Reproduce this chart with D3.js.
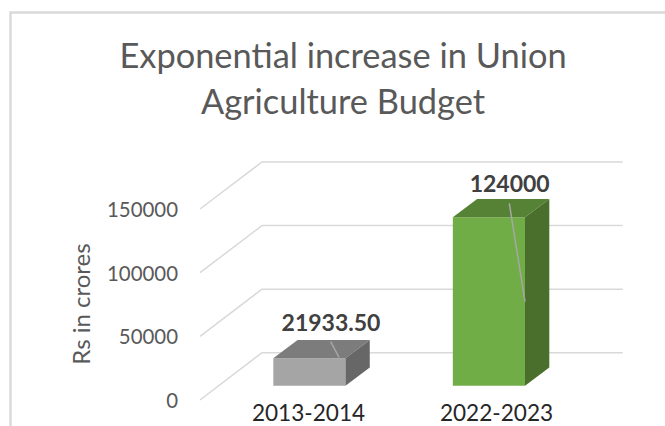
<!DOCTYPE html>
<html><head><meta charset="utf-8">
<script src="https://cdn.jsdelivr.net/npm/d3@7"></script>
<style>html,body{margin:0;padding:0;background:#fff;overflow:hidden}svg{display:block}</style>
</head><body><svg id="c" width="665" height="426"></svg>
<script>
const titleLines = ["Exponential increase in Union", "Agriculture Budget"];
const categories = ["2013-2014", "2022-2023"];
const values = [21933.5, 124000];
const valueLabels = ["21933.50", "124000"];
const axisTicks = [0, 50000, 100000, 150000];
const axisTitle = "Rs in crores";
const faceColours = [
  {front:"#a5a5a5", top:"#7c7c7c", side:"#676767"},
  {front:"#70ad47", top:"#558235", side:"#4a6f2d"}
];
const svg = d3.select("#c");
const font = "Lato, Carlito, sans-serif";
// frame
svg.append("path").attr("d","M10.5,426V12.5H665").attr("fill","none").attr("stroke","#d9d9d9").attr("stroke-width",2.4);
titleLines.forEach((t,i)=>svg.append("text").attr("x",343).attr("y",[68,113.5][i]).attr("text-anchor","middle")
  .attr("font-family",font).attr("font-weight",400).attr("font-size",34.4).attr("fill","#595959").text(t));
// scales
const yFront = d3.scaleLinear().domain([0,150000]).range([400,209]);
const yBack = d3.scaleLinear().domain([0,150000]).range([352.7,162]);
const xWall = [200,262,622.7];
const yBar = d3.scaleLinear().domain([0,150000]).range([388.6,181.4]);
const xBar = d3.scaleBand().domain(categories).range([273.3,525]).paddingInner(0.598).paddingOuter(0);
const baseY = 385.7, dx = 24.3, dy = 18.3;
// grid
axisTicks.forEach(v=>{
  svg.append("polyline").attr("fill","none").attr("stroke","#d9d9d9").attr("stroke-width",1.5)
    .attr("points",[[xWall[0],yFront(v)],[xWall[1],yBack(v)],[xWall[2],yBack(v)]].join(" "));
  svg.append("text").attr("x",178).attr("y",yFront(v)+8).attr("text-anchor","end").attr("font-family",font)
    .attr("font-size",20.4).attr("fill","#595959").text(v);
});
svg.append("text").attr("transform","translate(90,304) rotate(-90)").attr("text-anchor","middle").attr("font-family",font)
  .attr("font-size",24).attr("fill","#595959").text(axisTitle);
// bars
categories.forEach((c,i)=>{
  const x0=xBar(c), x1=x0+xBar.bandwidth(), t=yBar(values[i]), col=faceColours[i];
  svg.append("polygon").attr("fill",col.front).attr("points",[[x0,t],[x1,t],[x1,baseY],[x0,baseY]].join(" "));
  svg.append("polygon").attr("fill",col.top).attr("points",[[x0,t],[x0+dx,t-dy],[x1+dx,t-dy],[x1,t]].join(" "));
  svg.append("polygon").attr("fill",col.side).attr("points",[[x1,t],[x1+dx,t-dy],[x1+dx,baseY-dy],[x1,baseY]].join(" "));
});
// category labels
categories.forEach((c,i)=>svg.append("text").attr("x",[308.5,496.5][i]).attr("y",421).attr("text-anchor","middle")
  .attr("font-family",font).attr("font-size",22.6).attr("fill","#262626").text(c));
// leaders + value labels
const leaders = [[[330.7,341.7],[339,357.3]],[[509.3,203.3],[525,301.7]]];
leaders.forEach(l=>svg.append("line").attr("x1",l[0][0]).attr("y1",l[0][1]).attr("x2",l[1][0]).attr("y2",l[1][1])
  .attr("stroke","#a6a6a6").attr("stroke-width",1.5));
valueLabels.forEach((t,i)=>svg.append("text").attr("x",[331,509.7][i]).attr("y",[331,191.7][i]).attr("text-anchor","middle")
  .attr("font-family",font).attr("font-weight",700).attr("font-size",23).attr("fill","#404040").text(t));
</script></body></html>
